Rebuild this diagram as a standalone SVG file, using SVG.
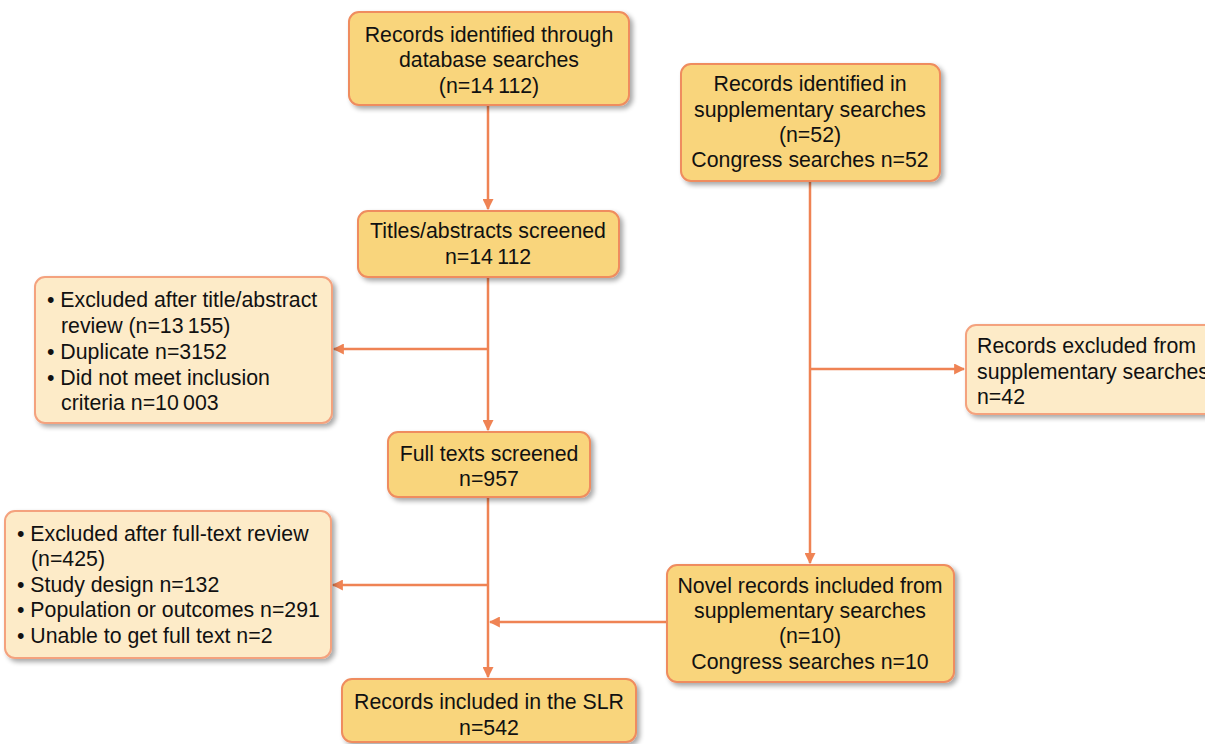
<svg xmlns="http://www.w3.org/2000/svg" width="1205" height="744" viewBox="0 0 1205 744">
<defs>
<filter id="sh" x="-10%" y="-10%" width="130%" height="140%">
<feGaussianBlur in="SourceAlpha" stdDeviation="2.5"/>
<feOffset dx="3" dy="3" result="b"/>
<feComponentTransfer><feFuncA type="linear" slope="0.35"/></feComponentTransfer>
<feMerge><feMergeNode/><feMergeNode in="SourceGraphic"/></feMerge>
</filter>
<marker id="ah" viewBox="0 0 10 10" refX="9" refY="5" markerWidth="4.4" markerHeight="4.4" orient="auto" markerUnits="strokeWidth">
<path d="M0,0 L10,5 L0,10 z" fill="#EF8354"/>
</marker>
</defs>
<style>
.dk{fill:#F9D57C;stroke:#EF8C5E;stroke-width:2;filter:url(#sh)}
.lt{fill:#FDEBC8;stroke:#F4A27E;stroke-width:2;filter:url(#sh)}
text{font-family:"Liberation Sans",Arial,sans-serif;font-size:21.3px;fill:#111}
.c{text-anchor:middle}
.ln{stroke:#EF8354;stroke-width:2.5;fill:none}
.ar{marker-end:url(#ah)}
</style>
<rect width="1205" height="744" fill="#fff"/>
<g id="connectors">
<line class="ln ar" x1="488" y1="105" x2="488" y2="209"/>
<line class="ln ar" x1="488" y1="277" x2="488" y2="430"/>
<line class="ln ar" x1="488" y1="349" x2="334" y2="349"/>
<line class="ln ar" x1="488" y1="497" x2="488" y2="677"/>
<line class="ln ar" x1="488" y1="585" x2="333" y2="585"/>
<line class="ln ar" x1="667" y1="622" x2="490" y2="622"/>
<line class="ln ar" x1="810" y1="181" x2="810" y2="563"/>
<line class="ln ar" x1="810" y1="369" x2="964" y2="369"/>
</g>
<g id="db">
<rect class="dk" x="349" y="12" width="280" height="93" rx="10"/>
<text class="c" x="489" y="42">Records identified through</text>
<text class="c" x="489" y="67">database searches</text>
<text class="c" x="489" y="93">(n=14&#8201;112)</text>
</g>
<g id="supp">
<rect class="dk" x="681" y="64" width="259" height="117" rx="10"/>
<text class="c" x="810" y="91">Records identified in</text>
<text class="c" x="810" y="117">supplementary searches</text>
<text class="c" x="810" y="142">(n=52)</text>
<text class="c" x="810" y="167">Congress searches n=52</text>
</g>
<g id="titles">
<rect class="dk" x="358" y="211" width="261" height="66" rx="10"/>
<text class="c" x="488" y="238">Titles/abstracts screened</text>
<text class="c" x="488" y="264">n=14&#8201;112</text>
</g>
<g id="excl1">
<rect class="lt" x="35" y="277" width="297" height="146" rx="10"/>
<text x="47" y="307">• Excluded after title/abstract</text>
<text x="61" y="333">review (n=13&#8201;155)</text>
<text x="47" y="359">• Duplicate n=3152</text>
<text x="47" y="385">• Did not meet inclusion</text>
<text x="61" y="410">criteria n=10&#8201;003</text>
</g>
<g id="exclsupp">
<rect class="lt" x="966" y="325" width="252" height="89" rx="10"/>
<text x="977" y="353">Records excluded from</text>
<text x="977" y="379">supplementary searches</text>
<text x="977" y="404">n=42</text>
</g>
<g id="full">
<rect class="dk" x="388" y="432" width="202" height="65" rx="10"/>
<text class="c" x="489" y="461">Full texts screened</text>
<text class="c" x="489" y="486">n=957</text>
</g>
<g id="excl2">
<rect class="lt" x="5" y="511" width="326" height="147" rx="10"/>
<text x="17" y="541">• Excluded after full-text review</text>
<text x="31" y="566">(n=425)</text>
<text x="17" y="592">• Study design n=132</text>
<text x="17" y="617">• Population or outcomes n=291</text>
<text x="17" y="643">• Unable to get full text n=2</text>
</g>
<g id="novel">
<rect class="dk" x="667" y="565" width="287" height="117" rx="10"/>
<text class="c" x="810" y="593">Novel records included from</text>
<text class="c" x="810" y="618">supplementary searches</text>
<text class="c" x="810" y="643">(n=10)</text>
<text class="c" x="810" y="669">Congress searches n=10</text>
</g>
<g id="slr">
<rect class="dk" x="342" y="679" width="294" height="63" rx="10"/>
<text class="c" x="489" y="709">Records included in the SLR</text>
<text class="c" x="489" y="735">n=542</text>
</g>
</svg>
